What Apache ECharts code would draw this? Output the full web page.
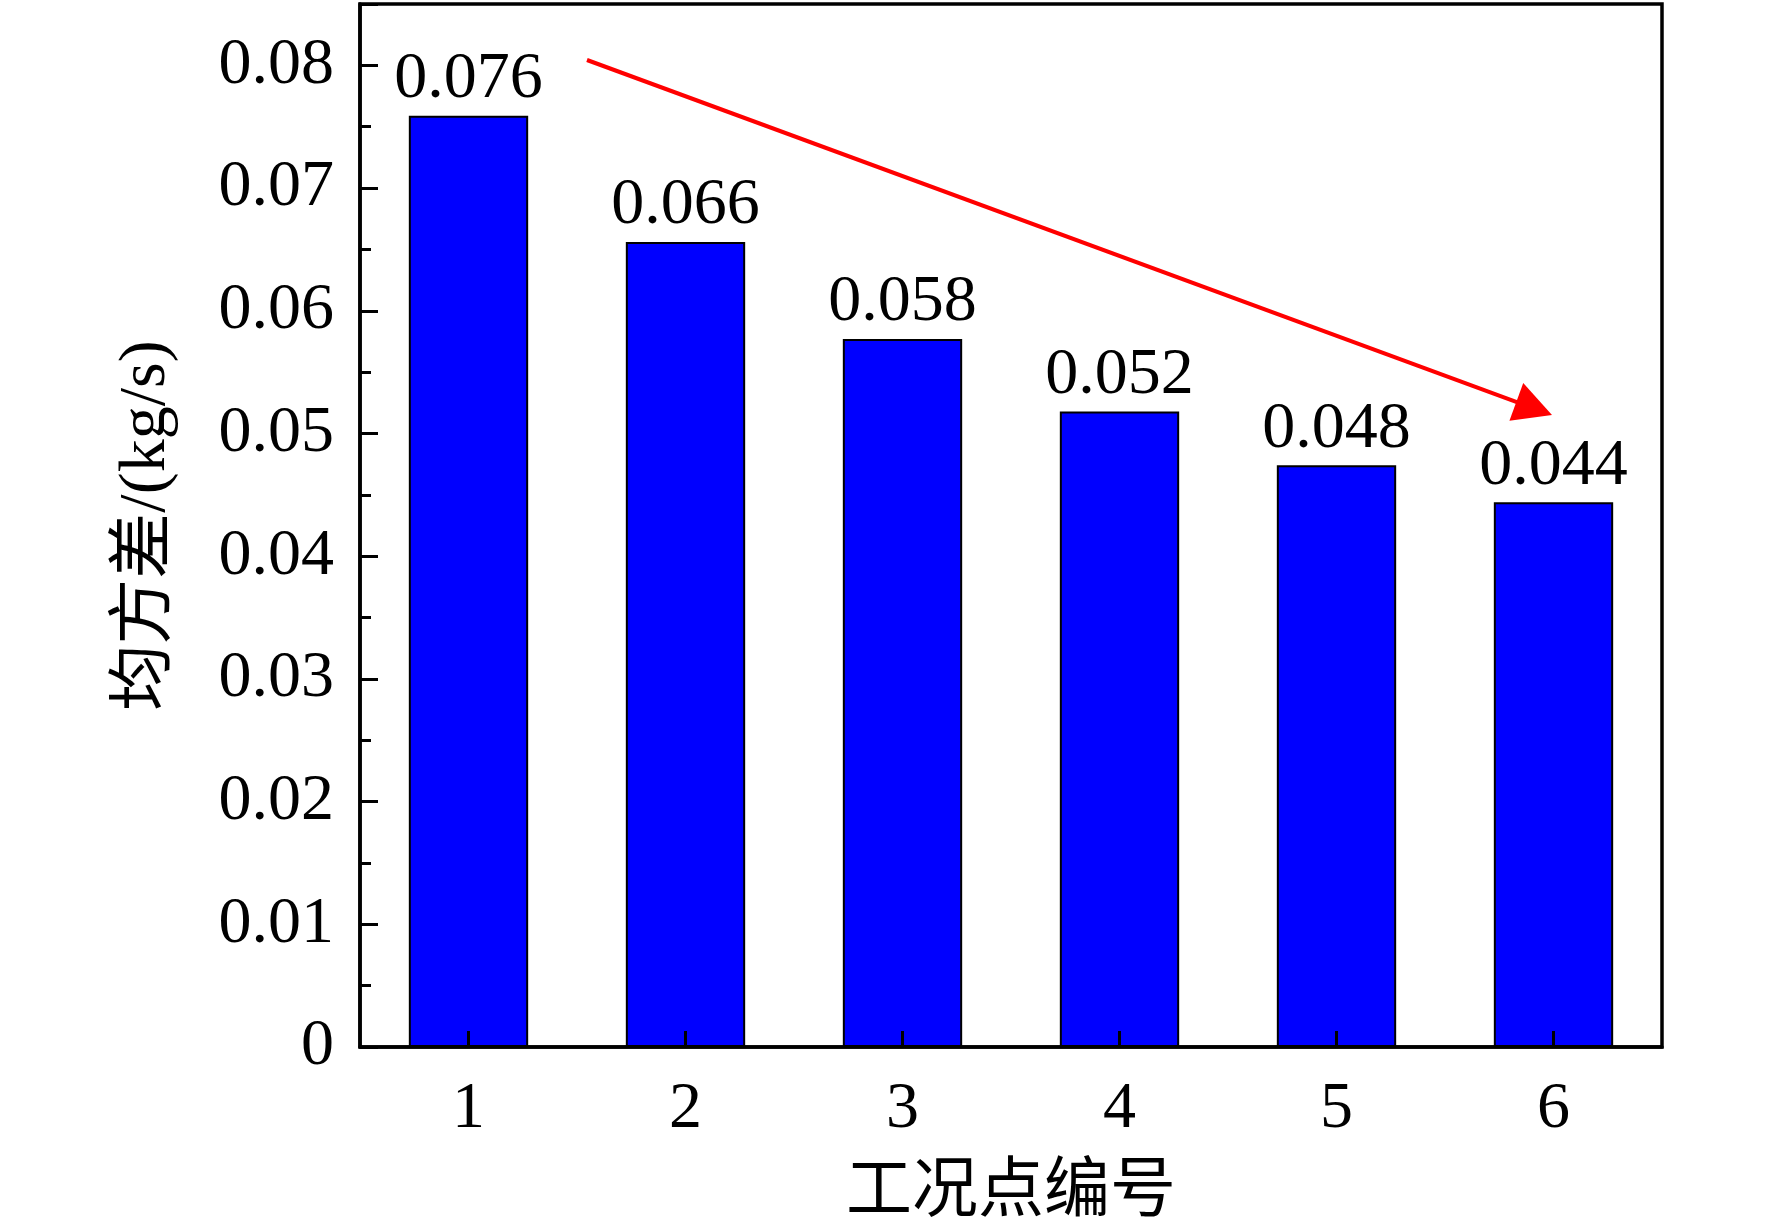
<!DOCTYPE html>
<html>
<head>
<meta charset="utf-8">
<script src="https://cdn.jsdelivr.net/npm/echarts@6/dist/echarts.min.js"></script>
<style>
html,body{margin:0;padding:0;background:#fff;}
#chart{width:1772px;height:1232px;}
</style>
</head>
<body>
<div id="chart"></div>
<script>
const categories = ['1', '2', '3', '4', '5', '6'];
const values = [0.0759, 0.0656, 0.0577, 0.0518, 0.0474, 0.0444];
const valueLabels = ['0.076', '0.066', '0.058', '0.052', '0.048', '0.044'];
const yTicks = { min: 0, max: 0.085, interval: 0.01 };
const xTitle = '工况点编号';
const yTitle = '均方差/(kg/s)';

const FONT = '"Liberation Serif", "Times New Roman", "Noto Sans CJK SC", serif';
const chart = echarts.init(document.getElementById('chart'), null, { renderer: 'canvas' });

// arrow annotation
const a0 = [587, 60], tip = [1552, 415];
const dx = tip[0] - a0[0], dy = tip[1] - a0[1];
const len = Math.hypot(dx, dy), ux = dx / len, uy = dy / len;
const headLen = 38, headHalf = 20;
const bc = [tip[0] - headLen * ux, tip[1] - headLen * uy];
const nx = -uy, ny = ux;

chart.setOption({
  backgroundColor: '#fff',
  animation: false,
  grid: {
    left: 360, right: 110, top: 4, bottom: 184,
    show: true, borderColor: '#000', borderWidth: 3.5, backgroundColor: 'transparent'
  },
  xAxis: {
    type: 'category',
    z: 5,
    data: categories,
    name: xTitle,
    nameLocation: 'middle',
    nameGap: 114,
    nameTextStyle: { fontFamily: FONT, fontSize: 66, color: '#000' },
    axisLine: { lineStyle: { color: '#000', width: 3.5 } },
    axisTick: { show: true, inside: true, alignWithLabel: true, length: 16, lineStyle: { color: '#000', width: 3 } },
    axisLabel: { fontFamily: FONT, fontSize: 66, color: '#000', margin: 30 },
    splitLine: { show: false }
  },
  yAxis: {
    type: 'value',
    z: 5,
    min: yTicks.min, max: yTicks.max, interval: yTicks.interval,
    name: yTitle,
    nameLocation: 'middle',
    nameGap: 180,
    nameTextStyle: { fontFamily: FONT, fontSize: 66, color: '#000' },
    axisLine: { show: true, lineStyle: { color: '#000', width: 3.5 } },
    axisTick: { show: true, inside: true, length: 18, lineStyle: { color: '#000', width: 3 } },
    minorTick: { show: true, splitNumber: 2, length: 11, lineStyle: { color: '#000', width: 3 } },
    axisLabel: {
      fontFamily: FONT, fontSize: 66, color: '#000', margin: 26,
      showMaxLabel: false,
      formatter: v => (v > 0.0801 ? '' : (v === 0 ? '0' : v.toFixed(2)))
    },
    splitLine: { show: false }
  },
  series: [{
    type: 'bar',
    data: values,
    barWidth: '55%',
    itemStyle: { color: '#0000ff', borderColor: '#000', borderWidth: 2 },
    label: {
      show: true, position: 'top', distance: 3,
      fontFamily: FONT, fontSize: 66, color: '#000',
      formatter: p => valueLabels[p.dataIndex]
    }
  }],
  graphic: [
    {
      type: 'line', z: 100,
      shape: { x1: a0[0], y1: a0[1], x2: bc[0] + 2 * ux, y2: bc[1] + 2 * uy },
      style: { stroke: '#ff0000', lineWidth: 4 }
    },
    {
      type: 'polygon', z: 100,
      shape: { points: [tip, [bc[0] + headHalf * nx, bc[1] + headHalf * ny], [bc[0] - headHalf * nx, bc[1] - headHalf * ny]] },
      style: { fill: '#ff0000' }
    }
  ]
});
</script>
</body>
</html>
